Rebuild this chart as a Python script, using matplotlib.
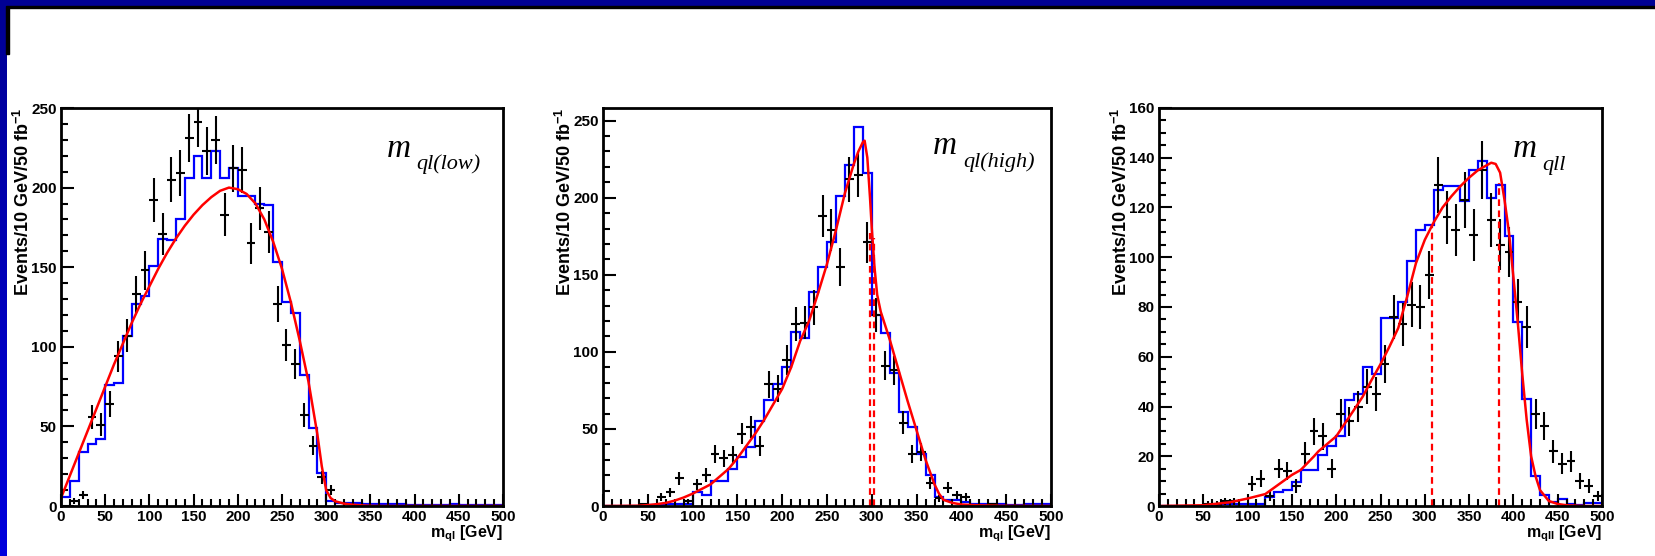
import numpy as np
import matplotlib.pyplot as plt
from matplotlib.patches import Rectangle
from matplotlib.ticker import MultipleLocator

plt.rcParams['font.family'] = 'Liberation Sans'
plt.rcParams['font.weight'] = 'bold'
plt.rcParams['mathtext.fontset'] = 'custom'
plt.rcParams['mathtext.bf'] = 'Liberation Sans:bold'
plt.rcParams['mathtext.rm'] = 'Liberation Sans:bold'
plt.rcParams['mathtext.default'] = 'bf'

# 10 GeV bins from 0 to 500
edges = np.arange(0, 510, 10)
centers = edges[:-1] + 5

# ---- m_ql(low) ----
mc_low = [5.5, 15.5, 34, 39, 42, 76, 77, 107, 127, 132,
          151, 168, 167, 180, 206, 220, 206, 223, 206, 212,
          195, 195, 190, 189, 153, 128, 121, 82, 49, 21,
          3, 2, 2, 2, 1, 1, 1, 1, 1, 0.5,
          0.5, 0.5, 0.5, 0.5, 1, 0.5, 0.5, 0.5, 0.5, 0.5]
data_low = [0, 3, 7, 56, 51, 64, 94, 107, 133, 148,
            192, 171, 205, 209, 231, 241, 223, 230, 183, 212,
            211, 165, 187, 172, 127, 101, 89, 57, 38, 18,
            10, 0, 0, 0, 0, 0, 0, 0, 0, 0,
            0, 0, 0, 0, 0, 0, 0, 0, 0, 0]
fit_x_low = [0, 10, 20, 30, 40, 50, 60, 70, 80, 90, 100, 110, 120, 130, 140,
             150, 160, 170, 180, 190, 200, 210, 220, 230, 240, 250, 260, 270,
             280, 290, 295, 300, 305, 310, 320, 330, 340, 350, 360, 500]
fit_y_low = [5, 19, 33, 47, 61, 75, 89, 102, 115, 127, 138, 149, 159, 168, 176,
             183, 189, 194, 198, 200, 199, 196, 190, 180, 166, 149, 128, 104,
             78, 45, 25, 10, 5, 3, 1.5, 0.8, 0.4, 0.1, 0, 0]
edge_x_low = []
edge_h_low = []

# ---- m_ql(high) ----
mc_high = [0, 0, 0, 0, 0.3, 0.5, 0.5, 1, 1, 1.5,
           9, 7, 16, 16, 24, 32, 38, 55, 69, 79,
           90, 113, 109, 139, 155, 171, 201, 221, 246, 216,
           124, 112, 86, 61, 51, 34, 20, 6, 4, 4,
           2.6, 1.5, 1, 1, 1, 0.5, 0.5, 1.5, 1.5, 1]
data_high = [0, 0, 0, 0, 1, 0, 6, 9, 18, 3,
             14, 20, 34, 31, 33, 47, 51, 39, 79, 76,
             95, 118, 119, 129, 188, 179, 155, 212, 215, 171,
             124, 91, 88, 54, 34, 35, 15, 5, 12, 7,
             6, 0, 0, 1, 0, 0, 0, 0, 0, 0]
fit_x_high = [0, 40, 50, 60, 70, 80, 90, 100, 110, 120, 130, 140, 150, 160,
              170, 180, 190, 200, 210, 220, 230, 240, 250, 260, 270, 280, 285,
              290, 292, 295, 298, 300, 303, 306, 310, 320, 330, 340, 350, 360,
              370, 375, 380, 390, 400, 420, 450, 500]
fit_y_high = [0, 0.2, 0.6, 1.2, 2, 3.5, 5.5, 8, 11, 14, 19, 24, 31, 39,
              47, 56, 66, 76, 90, 107, 120, 138, 157, 179, 203, 222, 230,
              236, 237, 226, 200, 180, 155, 137, 126, 108, 88, 68, 49, 30,
              14, 8, 4, 2, 1, 0.4, 0.1, 0]
edge_x_high = [298, 302]
edge_h_high = [177, 174]

# ---- m_qll ----
mc_qll = [0, 0, 0, 0, 0, 0, 0.3, 1, 1, 1,
          1, 1, 3.5, 5.5, 6.4, 9.5, 14.5, 14.5, 20.5, 24,
          28, 42.6, 45, 56, 53, 75.5, 75.5, 82, 98.6, 111,
          113, 127, 128.5, 128.5, 122.5, 135, 138.5, 124, 129, 108.6,
          74, 43, 12, 4.4, 1.7, 2.8, 0.7, 0.4, 1.3, 1.3]
data_qll = [0, 0, 0, 0, 0, 1, 1, 2, 2, 0,
            9, 11, 4, 15, 14, 8, 21, 30, 28, 15,
            37, 34, 40, 48, 45, 57, 76, 73, 81, 80,
            93, 129, 116, 111, 123, 109, 135, 115, 105, 102,
            82, 72, 37, 32, 22, 17, 18, 10, 8, 4]
fit_x_qll = [0, 50, 80, 100, 120, 150, 160, 175, 180, 200, 220, 230, 240, 250,
             260, 270, 280, 290, 300, 310, 320, 330, 340, 350, 360, 370, 375,
             380, 385, 390, 395, 400, 405, 410, 415, 420, 425, 430, 440, 450,
             460, 480, 500]
fit_y_qll = [0, 0.3, 1.5, 3, 4.8, 12.5, 14.5, 20, 22, 28, 38.6, 44, 50.7, 57,
             64, 71.5, 84, 97.6, 107, 114, 120, 124.5, 128.5, 132, 135, 137, 138,
             137.5, 134, 123, 110, 92, 73.5, 53, 34.6, 20, 12, 6.4, 2, 0.8,
             0.3, 0, 0]
edge_x_qll = [308, 384]
edge_h_qll = [113, 130]

# pixel frame of each pad: left, width
panels = [
    (mc_low, data_low, fit_x_low, fit_y_low, edge_x_low, edge_h_low,
     250, 50, 10, r'm$_{ql}$ [GeV]', 'ql(low)', (0.738, 0.878), (0.803, 0.847), 61, 442),
    (mc_high, data_high, fit_x_high, fit_y_high, edge_x_high, edge_h_high,
     258.2, 50, 10, r'm$_{ql}$ [GeV]', 'ql(high)', (0.737, 0.884), (0.804, 0.851), 603, 448),
    (mc_qll, data_qll, fit_x_qll, fit_y_qll, edge_x_qll, edge_h_qll,
     160, 20, 5, r'm$_{qll}$ [GeV]', 'qll', (0.799, 0.876), (0.866, 0.845), 1159, 443),
]

W, H = 1656, 556
fig = plt.figure(figsize=(W / 100, H / 100), dpi=100)

# slide border: blue band on top and left
grad = fig.add_axes([0, 0, 6.5 / W, 1])
grad.imshow(np.linspace(0, 1, 100).reshape(-1, 1), aspect='auto',
            cmap=plt.matplotlib.colors.LinearSegmentedColormap.from_list('b', ['#000094', '#0000dd']),
            extent=[0, 1, 0, 1])
grad.axis('off')
fig.patches.append(Rectangle((0, 1 - 5.7 / H), 1, 5.7 / H, transform=fig.transFigure,
                             color='#000094', zorder=5))
fig.patches.append(Rectangle((6.3 / W, 1 - 8.3 / H), 1, 2.6 / H, transform=fig.transFigure,
                             color='black', zorder=5))
fig.patches.append(Rectangle((6.3 / W, 1 - 54 / H), 2.4 / W, 46 / H, transform=fig.transFigure,
                             color='black', zorder=5))

for (mc, data, fx, fy, ex, eh, ytop, ymaj, ymin, xlab, sub, mpos, spos, left, width) in panels:
    ax = fig.add_axes([left / W, 50 / H, width / W, 398 / H])
    mc = np.array(mc)
    data = np.array(data, dtype=float)

    # MC histogram
    ax.stairs(mc, edges, color='blue', lw=1.6)

    # pseudo data with poisson errors
    keep = data > 0
    ax.errorbar(centers[keep], data[keep], yerr=np.sqrt(data[keep]), xerr=5,
                fmt='none', ecolor='black', elinewidth=1.5, capsize=0)

    # fit
    ax.plot(fx, fy, color='red', lw=1.8)
    if len(ex) > 0:
        ax.vlines(ex, 0, eh, colors='red', linestyles=(0, (3, 2)), lw=1.6)

    ax.set_xlim(0, 500)
    ax.set_ylim(0, ytop)
    ax.xaxis.set_major_locator(MultipleLocator(50))
    ax.xaxis.set_minor_locator(MultipleLocator(10))
    ax.yaxis.set_major_locator(MultipleLocator(ymaj))
    ax.yaxis.set_minor_locator(MultipleLocator(ymin))
    ax.tick_params(which='both', direction='in', top=False, right=False, width=1.5)
    ax.tick_params(which='major', length=9, labelsize=11, pad=3)
    ax.tick_params(which='minor', length=5)
    for s in ax.spines.values():
        s.set_linewidth(2)

    ax.set_ylabel(r'Events/10 GeV/50 fb$^{-1}$', fontsize=13, fontweight='bold', loc='top')
    ax.yaxis.set_label_coords(-28 / width, 1.0)
    ax.set_xlabel(xlab, fontsize=11.5, fontweight='bold', loc='right')
    ax.xaxis.set_label_coords(1.0, -0.043)

    ax.text(mpos[0], mpos[1], 'm', transform=ax.transAxes, fontsize=24,
            family='Liberation Serif', style='italic', weight='normal', va='baseline')
    ax.text(spos[0], spos[1], sub, transform=ax.transAxes, fontsize=16,
            family='Liberation Serif', style='italic', weight='normal', va='baseline')

plt.savefig('out.png', dpi=100)
